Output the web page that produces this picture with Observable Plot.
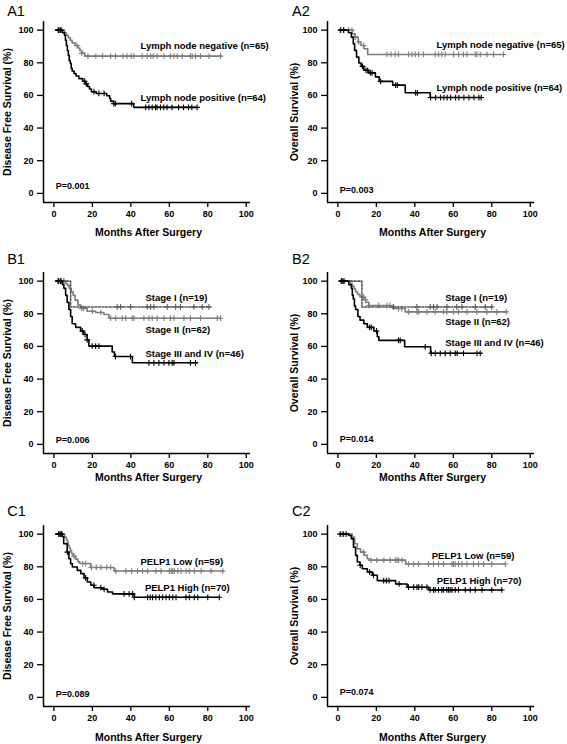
<!DOCTYPE html>
<html>
<head>
<meta charset="utf-8">
<script src="https://cdn.jsdelivr.net/npm/d3@7"></script>
<script src="https://cdn.jsdelivr.net/npm/@observablehq/plot@0.6"></script>
<style>
  html, body { margin: 0; padding: 0; background: #fff; overflow: hidden; }
  #fig { position: relative; width: 567px; height: 744px; overflow: hidden; }
  #fig > svg { position: absolute; }
</style>
</head>
<body>
<div id="fig"></div>
<script>
// ---- Data: step points [month, survival %], end of follow-up, censor months ----
const xTicks = [0, 20, 40, 60, 80, 100];
const yTicks = [0, 20, 40, 60, 80, 100];

// A1 Disease free survival by lymph node status
const a1Neg = [[1,100],[5.5,98.4],[6.5,96.9],[7.5,95.3],[8.5,93.8],[9.5,92.2],[11,90.6],[12.5,89.1],[13.5,87.5],[14.5,85.9],[16,84.1]];
const a1NegEnd = 87;
const a1NegCens = [2,3,4,12,14.5,17.7,21.8,25.3,29.5,32,36,38,40.2,41.6,45.9,48.5,50.3,51.6,53.7,57.2,60.6,62.4,64.1,66.7,71,71.9,73.6,76.2,80.6,86.6];
const a1Pos = [[1,100],[4.5,98.4],[5.5,96.9],[6,93.8],[6.5,90.6],[7,87.5],[7.5,84.4],[8,81.3],[8.5,79.7],[9,76.6],[9.5,75],[10.5,73.4],[11.5,71.9],[13,70.3],[15,68.7],[16.5,67.1],[17.5,65.5],[18.5,63.9],[19.5,62.3],[22,61.2],[27.5,59.8],[29,58.1],[29.5,56.5],[31,55],[41.5,52.7]];
const a1PosEnd = 74.5;
const a1PosCens = [2.5,3.5,16,16.8,20.8,23.4,26.1,31.2,32,40.4,47.7,49.4,51.1,52.8,53.6,55.4,57.1,58.8,61.4,64.8,67.4,70,71.7,74.4];

// A2 Overall survival by lymph node status
const a2Neg = [[1,100],[7.5,97.7],[9,95.7],[10.5,92.7],[12,90.6],[13.5,88.6],[15.5,85.1]];
const a2NegEnd = 86.5;
const a2NegCens = [1.2,3,5.6,7.3,9,10.8,13.4,25.5,27.6,29.8,31.5,36.7,38.5,40.2,41.9,44.5,50.6,52.3,54.1,55.8,60.1,62.7,65.3,67.1,71.4,72.3,74,77.5,80.9,86.1];
const a2Pos = [[1,100],[5.5,98.4],[7,95.7],[8,91.6],[8.7,87.6],[9.7,83.5],[10.9,79.9],[12.1,77.8],[13.5,75.4],[16,73.8],[19.5,71.4],[21.5,68.6],[28.5,66.3],[35,61.6],[48,58.7]];
const a2PosEnd = 74.5;
const a2PosCens = [1.5,3,12.8,14.6,15.5,16.9,17.8,22.2,30,30.9,40.4,41.3,48.2,50.8,53.4,55.1,56.8,58.6,61.2,62.9,65.5,68.1,70.7,73.3,74.5];

// B1 Disease free survival by stage
const b1S1 = [[1,100],[8.7,84.2]];
const b1S1End = 81.4;
const b1S1Cens = [2,3.5,5.2,32.9,34.7,39.9,48.5,50.3,52,58.9,63.3,65.8,72.8,77.1,80.6];
const b1S2 = [[1,100],[6.1,98.6],[7,97.4],[8,95.5],[9,93.5],[10,91.4],[11,88.4],[12.5,85.3],[14,83.3],[17.3,81.6],[21.7,80.8],[26,79.6],[28.6,77.3]];
const b1S2End = 86.6;
const b1S2Cens = [2.5,4,14.5,15.5,20,24.4,29.5,32.1,35.5,37.3,40.7,41.6,46.8,49.4,51.1,53.7,57.2,60.6,62.4,67.6,71,76.2,84.9,86.6];
const b1S34 = [[1,100],[4.5,97.8],[5.2,95.6],[6.1,91.3],[6.9,87],[7.8,82.6],[8.7,78.3],[9.5,73.9],[11.3,71.7],[13.9,69.5],[15.6,67.3],[17.3,64],[18.2,60.2],[30.3,56.6],[31.5,53.8],[40.8,50]];
const b1S34End = 74.5;
const b1S34Cens = [2.5,3.5,14.8,16.2,17.3,19.9,21.7,23.4,32,39.8,49.4,52,54.6,57.2,59.8,61.5,62.4,71,73.6];

// B2 Overall survival by stage
const b2S1 = [[1,100],[12.5,84.2]];
const b2S1End = 80.9;
const b2S1Cens = [2,3.5,29,41.1,48,49.7,51.5,56.7,61.8,64.5,71.4,76.6,80];
const b2S2 = [[1,100],[6.6,98.4],[7.5,96.8],[8.5,95.2],[9.2,93.5],[10.2,91.9],[11.5,90.3],[13.5,88.7],[14.5,87.1],[16.1,85.1],[28.5,83.2],[35,81.2]];
const b2S2End = 87.5;
const b2S2Cens = [1.8,2.7,13.4,14.3,16.1,21.2,25.5,27,31.5,33.2,36.7,41.1,42,46.3,50.6,54.9,56.6,60.1,62.7,67.1,72.3,77.5,82.6,87.5];
const b2S34 = [[1,100],[5.7,97.8],[7,95.6],[7.5,91.3],[8,89.1],[8.6,84.8],[9.2,82.6],[10.4,78.3],[11.5,76.1],[13.5,73.9],[15.3,71.7],[18.7,69.5],[20.5,65.9],[21.3,63.7],[34.7,59.8],[48.2,55.8]];
const b2S34End = 74.5;
const b2S34Cens = [1.8,2.7,16.5,17.4,20.1,31.5,32.4,45.4,48.5,50.6,53.2,55.8,58.4,61,62,65.3,72.3,74];

// C1 Disease free survival by PELP1 expression
const c1Low = [[1,100],[5.5,98.3],[6.5,96.6],[7,94.9],[7.5,93.2],[8,91.5],[8.6,89.8],[9.2,88.1],[10,86.4],[11.3,84.7],[12.5,83],[13.5,82],[19.1,79.6],[31.3,77.4]];
const c1LowEnd = 88;
const c1LowCens = [2.6,3.5,4.4,10.5,15,16.5,19.5,22,24.4,27.5,29.5,32.2,37.4,40.4,43.5,46.1,48.7,53,55.7,60,61,61.8,62.6,64.4,66.1,68.7,70.4,73,76.5,81.7,87.8];
const c1High = [[1,100],[4.3,98.6],[5.1,94.1],[6.9,89],[7.8,84.9],[8.7,81.9],[9.6,79.9],[12.2,77.8],[14,75.8],[15.7,73.2],[17.4,70.7],[19.2,68.7],[20.9,67.2],[25.3,66.2],[27.9,64.6],[30.5,63.4],[41.8,61.3]];
const c1HighEnd = 86;
const c1HighCens = [2.5,3.2,4,7,16.5,20.8,24.4,26.1,36.5,39.1,40.9,41.8,48.7,50.1,51.3,53,54.8,56.5,58.3,60,61.8,63.5,68.7,70.4,73,74.8,80,86];

// C2 Overall survival by PELP1 expression
const c2Low = [[1,100],[7.5,98.2],[8.7,94.1],[10.1,91],[11.8,89],[13.5,87],[15.3,84.9],[16.1,84.1],[35.2,81.7]];
const c2LowEnd = 87;
const c2LowCens = [1.5,3,13.4,17.2,20.2,23.9,27.2,29.8,30.7,31.5,33.3,36.7,39.4,41.9,47.1,49.7,52.3,54.9,59.3,60.1,61,62.7,64.5,67.1,70.5,73.1,75.7,80,87];
const c2High = [[1,100],[5.7,99.2],[7,97.1],[8.1,92],[9.2,87],[10.1,82.9],[11.5,80.9],[12.7,78.8],[15.3,76.8],[17.9,74.8],[20.5,71.5],[30,69.5],[36,67.5],[47.3,65.8]];
const c2HighEnd = 85.2;
const c2HighCens = [1.2,2.7,4.3,11.6,16.5,18.5,23.8,25.2,26.6,31.8,36.7,39.4,41.1,42,43.7,46.3,48,49.7,50.6,52.3,54,54.9,56.6,57.5,58.4,59.3,61,62.7,66.2,68.8,71.4,74.9,80,85.2];

// text
const pValues = ["P=0.001", "P=0.003", "P=0.006", "P=0.014", "P=0.089", "P=0.074"];
const panelTitles = ["A1", "A2", "B1", "B2", "C1", "C2"];
const yTitles = ["Disease Free Survival (%)", "Overall Survival (%)"];
const xTitle = "Months After Surgery";

// ---- helpers ----
const GRAY = "#7d7d7d";
const BLACK = "#000";
function stepLine(steps, end) { return [...steps, [end, steps[steps.length - 1][1]]]; }
function survAt(steps, t) { let s = steps[0][1]; for (const [ti, si] of steps) if (ti <= t) s = si; return s; }
function censorPts(steps, cens) { return cens.map(t => [t, survAt(steps, t)]); }

const XMIN = -5.4, XMAX = 102.2, YMIN = -5.6, YMAX = 105.3;
const W = 283, H = 240;

function panel(cfg) {
  const marks = [];
  for (const c of cfg.curves) {
    marks.push(Plot.line(stepLine(c.steps, c.end), {
      x: d => d[0], y: d => d[1], curve: "step-after",
      stroke: c.color, strokeWidth: 1.6, strokeDasharray: c.dash || null
    }));
    marks.push(Plot.dot(censorPts(c.steps, c.cens), {
      x: d => d[0], y: d => d[1], symbol: "plus", r: 2, stroke: c.color, strokeWidth: 1.1
    }));
  }
  for (const l of cfg.labels) {
    marks.push(Plot.text([l.text], {x: l.x, y: l.y, textAnchor: "start", lineAnchor: "middle",
      fontSize: 9.5, fontWeight: "bold", fill: "#000"}));
  }
  marks.push(
    Plot.ruleX([XMIN], {stroke: "#000", strokeWidth: 1.5}),
    Plot.ruleY([YMIN], {stroke: "#000", strokeWidth: 1.5}),
    Plot.axisY({ticks: yTicks, tickSize: 6, tickPadding: 4, label: null, strokeWidth: 1.3, tickFormat: d => d}),
    Plot.axisX({ticks: xTicks, tickSize: 5, tickPadding: 3, label: null, strokeWidth: 1.3, tickFormat: d => d}),
    Plot.text([cfg.p], {x: 1, y: cfg.pY, textAnchor: "start", lineAnchor: "middle", fontSize: 9, fontWeight: "bold"}),
    Plot.text([cfg.title], {frameAnchor: "top-left", dx: cfg.titleX - 43, dy: cfg.titleY - 21, lineAnchor: "bottom",
      textAnchor: "start", fontSize: 14.5, fontWeight: "normal"}),
    Plot.text([cfg.yTitle], {frameAnchor: "left", dx: cfg.yTitleX - 43, rotate: -90, textAnchor: "middle",
      lineAnchor: "middle", fontSize: 10.5, fontWeight: "bold"}),
    Plot.text([xTitle], {frameAnchor: "bottom", dx: 1.5, dy: cfg.xTitleY - 202, lineAnchor: "middle",
      fontSize: 10.5, fontWeight: "bold"})
  );
  const svg = Plot.plot({
    width: W, height: H,
    marginLeft: 43, marginRight: W - 250, marginTop: 21, marginBottom: H - 202,
    x: {domain: [XMIN, XMAX]},
    y: {domain: [YMIN, YMAX]},
    style: {fontFamily: "'Liberation Sans', Arial, sans-serif", fontSize: "9px", fontWeight: "bold", color: "#000", background: "transparent"},
    marks
  });
  svg.style.left = cfg.left + "px";
  svg.style.top = cfg.top + "px";
  document.getElementById("fig").appendChild(svg);
}

const rowTop = [0, 250.7, 504];
const colLeft = [0, 284];
const titleYs = [15, 12.5, 11];
const xTitleYs = [232, 226.5, 233];
const pYs = [4.6, 1.8, 2.5, 3.5, 2.2, 3.4];

const panels = [
  {curves: [
    {steps: a1Neg, end: a1NegEnd, cens: a1NegCens, color: GRAY},
    {steps: a1Pos, end: a1PosEnd, cens: a1PosCens, color: BLACK}],
   labels: [{text: "Lymph node negative (n=65)", x: 45, y: 90.5}, {text: "Lymph node positive (n=64)", x: 45, y: 58.5}]},
  {curves: [
    {steps: a2Neg, end: a2NegEnd, cens: a2NegCens, color: GRAY},
    {steps: a2Pos, end: a2PosEnd, cens: a2PosCens, color: BLACK}],
   labels: [{text: "Lymph node negative (n=65)", x: 51.3, y: 90.8}, {text: "Lymph node positive (n=64)", x: 51.3, y: 64.6}]},
  {curves: [
    {steps: b1S2, end: b1S2End, cens: b1S2Cens, color: GRAY},
    {steps: b1S1, end: b1S1End, cens: b1S1Cens, color: "#5a5a5a", dash: "2,1.6"},
    {steps: b1S34, end: b1S34End, cens: b1S34Cens, color: BLACK}],
   labels: [{text: "Stage I (n=19)", x: 47.6, y: 89.4}, {text: "Stage II (n=62)", x: 47.6, y: 70.4}, {text: "Stage III and IV (n=46)", x: 47.6, y: 55.1}]},
  {curves: [
    {steps: b2S2, end: b2S2End, cens: b2S2Cens, color: GRAY},
    {steps: b2S1, end: b2S1End, cens: b2S1Cens, color: "#5a5a5a", dash: "2,1.6"},
    {steps: b2S34, end: b2S34End, cens: b2S34Cens, color: BLACK}],
   labels: [{text: "Stage I (n=19)", x: 55.8, y: 89.4}, {text: "Stage II (n=62)", x: 55.8, y: 74.8}, {text: "Stage III and IV (n=46)", x: 55.8, y: 62}]},
  {curves: [
    {steps: c1Low, end: c1LowEnd, cens: c1LowCens, color: GRAY},
    {steps: c1High, end: c1HighEnd, cens: c1HighCens, color: BLACK}],
   labels: [{text: "PELP1 Low (n=59)", x: 45, y: 82.7}, {text: "PELP1 High (n=70)", x: 47.3, y: 67.1}]},
  {curves: [
    {steps: c2Low, end: c2LowEnd, cens: c2LowCens, color: GRAY},
    {steps: c2High, end: c2HighEnd, cens: c2HighCens, color: BLACK}],
   labels: [{text: "PELP1 Low (n=59)", x: 48.8, y: 86.8}, {text: "PELP1 High (n=70)", x: 51.4, y: 71.5}]}
];

panels.forEach((p, i) => {
  const row = Math.floor(i / 2), col = i % 2;
  panel({
    ...p,
    left: colLeft[col], top: rowTop[row],
    title: panelTitles[i], titleX: col === 0 ? 6.7 : 7.5, titleY: titleYs[row],
    yTitle: yTitles[col], yTitleX: col === 0 ? 7.5 : 10,
    xTitleY: xTitleYs[row],
    p: pValues[i], pY: pYs[i]
  });
});
</script>
</body>
</html>
